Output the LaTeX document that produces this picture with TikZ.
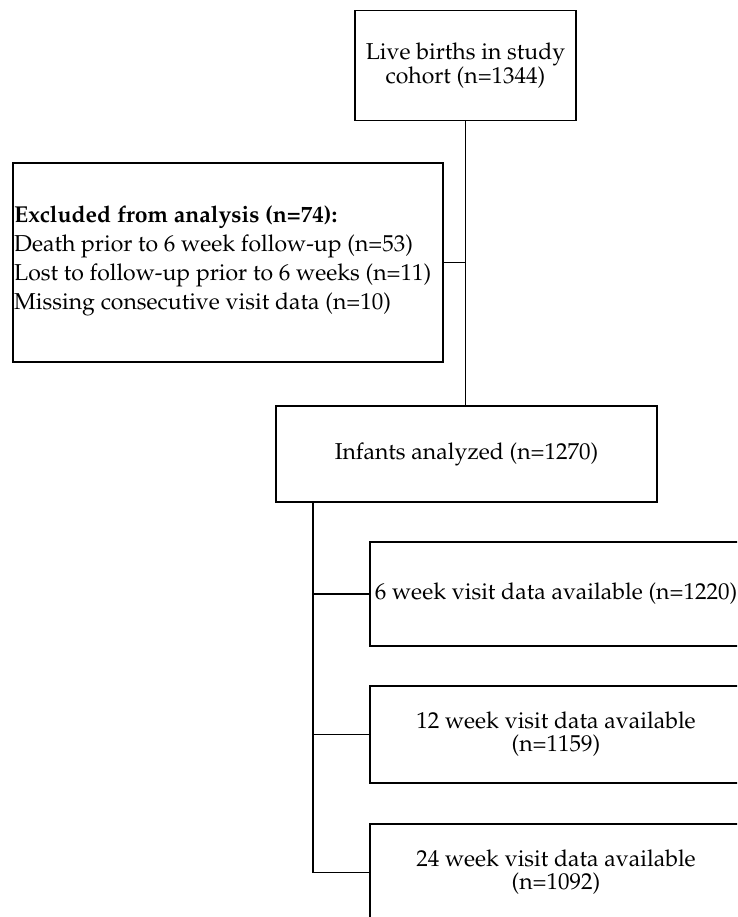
\documentclass[tikz,border=0pt]{standalone}
\usepackage[T1]{fontenc}
\usepackage{mathpazo}
\begin{document}
\begin{tikzpicture}[x=1pt,y=-1pt,
  box/.style={draw=black,line width=1.5pt,inner sep=1pt,align=center,font=\fontsize{23}{23}\selectfont},
  txt/.style={inner sep=0pt,align=left,font=\fontsize{23}{29}\selectfont},
  conn/.style={draw=black,line width=1.5pt}]
\useasboundingbox (0,0) rectangle (737,917);
\clip (0,0) rectangle (737,917);
\fill[white] (0,0) rectangle (737,917);
\node[box,minimum width=221pt,minimum height=110pt] (top) at (465.5,65.5) {Live births in study\\cohort (n=1344)};
\node[box,minimum width=430pt,minimum height=199pt] (excl) at (228,262.5) {};
\node[txt,anchor=west] (excltxt) at (14,261)
  {\textbf{Excluded from analysis (n=74):}\\Death prior to 6 week follow-up (n=53)\\Lost to follow-up prior to 6 weeks (n=11)\\Missing consecutive visit data (n=10)};
\node[box,minimum width=381pt,minimum height=96pt] (inf) at (466.5,454) {Infants analyzed (n=1270)};
\node[box,minimum width=372pt,minimum height=104pt] (w6) at (556,594) {6 week visit data available (n=1220)};
\node[box,minimum width=372pt,minimum height=97pt] (w12) at (556,734.5) {12 week visit data available\\(n=1159)};
\node[box,minimum width=372pt,minimum height=97pt] (w24) at (556,872.5) {24 week visit data available\\(n=1092)};
\coordinate (t) at (313,0);
\draw[conn] (top.south) -- (top.south |- inf.north);
\draw[conn] (excl.east) -- (excl.east -| top.south);
\draw[conn] (inf.south -| t) |- (w24.west);
\draw[conn] (w6.west -| t) -- (w6.west);
\draw[conn] (w12.west -| t) -- (w12.west);
\end{tikzpicture}
\end{document}
